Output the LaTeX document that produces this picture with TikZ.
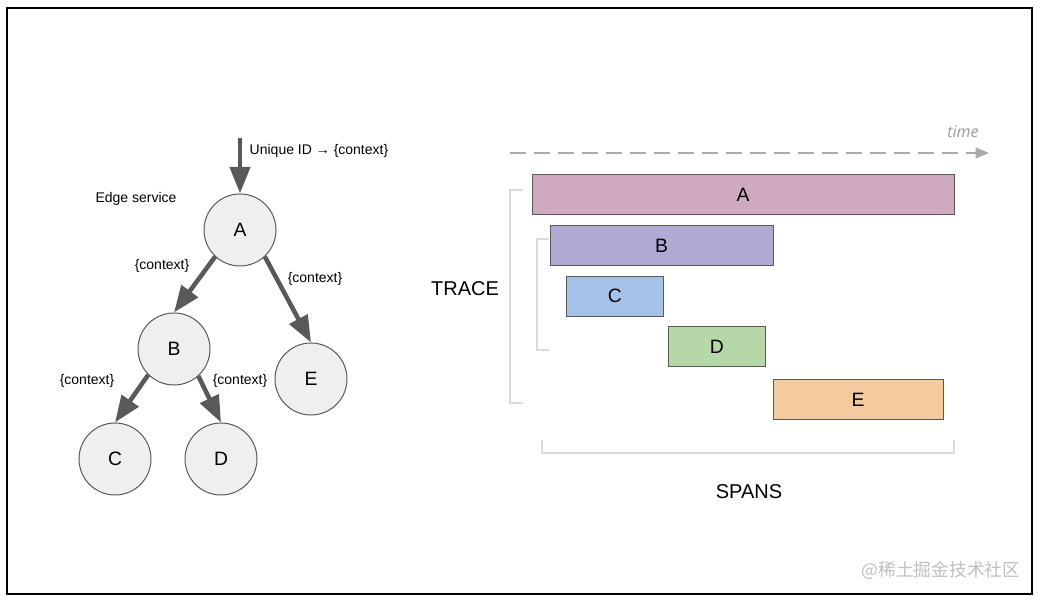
\documentclass[tikz,border=0pt]{standalone}
\usepackage{fontspec}
\setmainfont{Liberation Sans}
\newfontfamily\timefont{Open Sans}
\newfontfamily\cjkfont{Noto Sans CJK SC}
\usetikzlibrary{arrows.meta}
\definecolor{spanA}{HTML}{CFA9BE}
\definecolor{spanB}{HTML}{B1A8D4}
\definecolor{spanC}{HTML}{A4C2E8}
\definecolor{spanD}{HTML}{B6D7A8}
\definecolor{spanE}{HTML}{F4CB9F}
\definecolor{nodefill}{HTML}{EFEFEF}
\definecolor{darkline}{HTML}{595959}
\definecolor{bracketgray}{HTML}{DADADA}
\definecolor{timegray}{HTML}{AAAAAA}
\begin{document}
\begin{tikzpicture}[
    x=0.75pt, y=-0.75pt,
    svc/.style={circle, draw=darkline, line width=0.75pt, fill=nodefill, minimum size=54pt, inner sep=0pt, font=\fontsize{14.5}{16}\selectfont},
    span/.style={rectangle, draw=darkline, line width=0.75pt, minimum height=30pt, inner sep=0pt, font=\fontsize{14.5}{16}\selectfont},
    flow/.style={-{Triangle[length=20pt, width=15pt]}, draw=darkline, line width=3.4pt},
    lbl/.style={font=\fontsize{10.5}{12}\selectfont, inner sep=0pt},
    big/.style={font=\fontsize{15}{17}\selectfont, inner sep=0pt},
    bracket/.style={draw=bracketgray, line width=1.5pt},
    timeline/.style={-{Triangle[length=10pt, width=8pt]}, draw=timegray, line width=1.5pt, dash pattern=on 12pt off 6pt}
]
    \useasboundingbox (0,0) rectangle (1040,602);
    \draw[line width=1.5pt] (7,8) rectangle (1032,594);

    % call tree
    \node[svc] (A) at (240,230) {A};
    \node[svc] (B) at (174,349) {B};
    \node[svc] (E) at (311,379) {E};
    \node[svc] (C) at (115,459) {C};
    \node[svc] (D) at (221,459) {D};
    \coordinate (in) at (240,138);

    \draw[flow] (in) -- (A.north);
    \draw[flow] (A.227) -- (B.north);
    \draw[flow] (A.-47) -- (E.north);
    \draw[flow] (B.225) -- (C.north);
    \draw[flow] (B.-48) -- (D.north);

    \node[lbl] (uid) at (319,151) {Unique ID → \{context\}};
    \node[lbl] (edge) at (136,199) {Edge service};
    \node[lbl] (ctxAB) at (162,266) {\{context\}};
    \node[lbl] (ctxAE) at (315,279) {\{context\}};
    \node[lbl] (ctxBC) at (87,381) {\{context\}};
    \node[lbl] (ctxBD) at (240,381) {\{context\}};

    % timeline
    \coordinate (t0) at (510,153);
    \coordinate (t1) at (989,153);
    \draw[timeline] (t0) -- (t1);
    \node[font=\timefont\itshape\fontsize{12}{14}\selectfont, text=timegray!90!black, inner sep=0pt] (time) at (963,132) {time};

    % spans
    \node[span, fill=spanA, minimum width=316.5pt] (sA) at (743,194.5) {A};
    \node[span, fill=spanB, minimum width=167.25pt] (sB) at (661.5,245.5) {B};
    \node[span, fill=spanC, minimum width=73pt] (sC) at (614.75,296.25) {C};
    \node[span, fill=spanD, minimum width=72.5pt] (sD) at (716.75,347) {D};
    \node[span, fill=spanE, minimum width=127.5pt] (sE) at (858,399.5) {E};

    \draw[bracket] (523,190) -- (510,190) -- (510,403) -- (523,403);
    \draw[bracket] (549,239) -- (537,239) -- (537,350) -- (549,350);
    \draw[bracket] (542,440) -- (542,453) -- (954,453) -- (954,440);

    \node[big] (trace) at (465,288.5) {TRACE};
    \node[big] (spans) at (749,491.5) {SPANS};

    \node[font=\cjkfont\fontsize{13.3}{15}\selectfont, text=black!25, inner sep=0pt] (mark) at (941,571) {@稀土掘金技术社区};
\end{tikzpicture}
\end{document}
